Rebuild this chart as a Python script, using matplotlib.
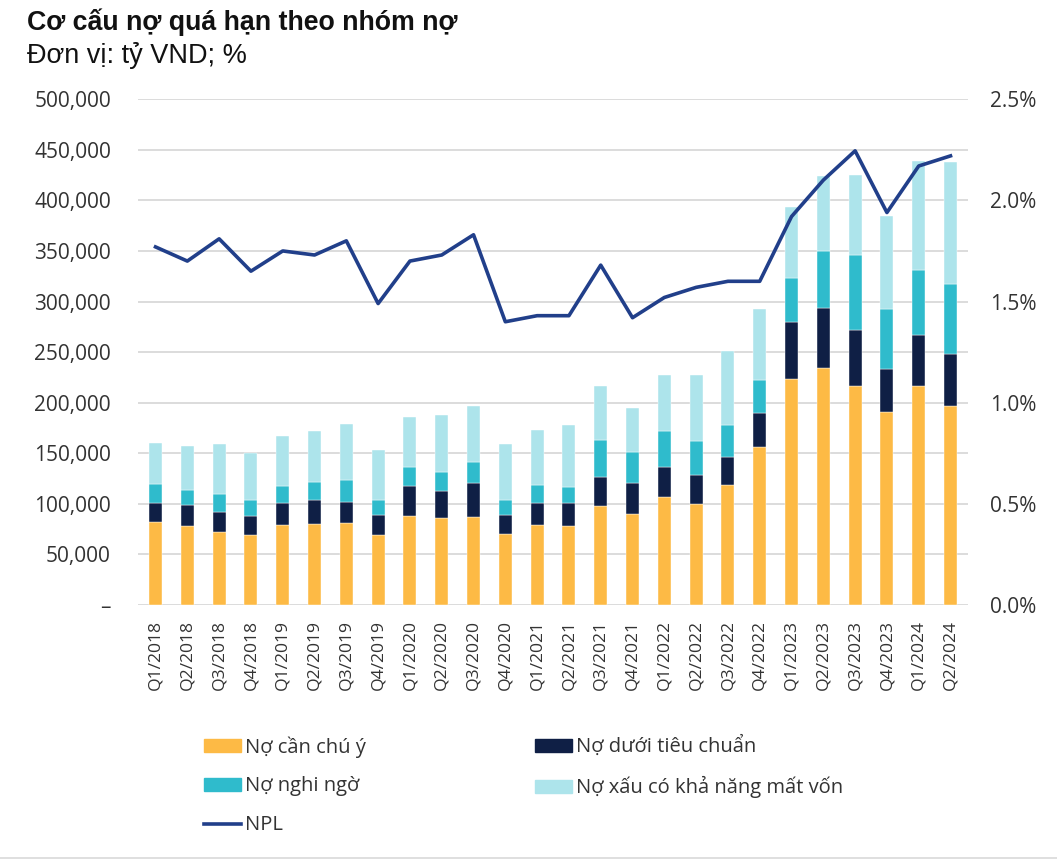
import matplotlib
matplotlib.use("Agg")
import matplotlib.pyplot as plt
from matplotlib.patches import Patch
from matplotlib.lines import Line2D
from matplotlib.ticker import FuncFormatter

quarters = ["Q1/2018", "Q2/2018", "Q3/2018", "Q4/2018",
            "Q1/2019", "Q2/2019", "Q3/2019", "Q4/2019",
            "Q1/2020", "Q2/2020", "Q3/2020", "Q4/2020",
            "Q1/2021", "Q2/2021", "Q3/2021", "Q4/2021",
            "Q1/2022", "Q2/2022", "Q3/2022", "Q4/2022",
            "Q1/2023", "Q2/2023", "Q3/2023", "Q4/2023",
            "Q1/2024", "Q2/2024"]

# ty VND
can_chu_y = [82000, 78000, 72500, 69500, 79000, 80500, 81000, 69500, 87500, 86000,
             86500, 70000, 79000, 78000, 98000, 89500, 107000, 100000, 118500, 156000,
             223000, 234000, 216000, 190500, 216000, 196500]
duoi_tieu_chuan = [19000, 20500, 19500, 18000, 21500, 23500, 21000, 19500, 30000, 27000,
                   34500, 18500, 22000, 23000, 28500, 31500, 29500, 28000, 27500, 33500,
                   56500, 60000, 56000, 43000, 51000, 52000]
nghi_ngo = [18500, 15000, 18000, 16000, 17000, 18000, 21500, 15000, 19000, 18000,
            20500, 15000, 18000, 15500, 36500, 30000, 35500, 34000, 31500, 33000,
            43500, 56000, 74000, 59000, 64500, 69000]
mat_von = [41000, 43500, 49000, 47000, 49500, 50000, 55000, 49000, 49000, 57000,
           55000, 56000, 54000, 61000, 53500, 44000, 55000, 65000, 73500, 70000,
           70500, 74000, 79500, 92000, 107000, 120000]
# %
npl = [1.77, 1.70, 1.81, 1.65, 1.75, 1.73, 1.80, 1.49, 1.70, 1.73,
       1.83, 1.40, 1.43, 1.43, 1.68, 1.42, 1.52, 1.57, 1.60, 1.60,
       1.92, 2.10, 2.245, 1.94, 2.17, 2.22]

c_yellow = "#FDBA45"
c_navy = "#0F1F45"
c_teal = "#2FBBCC"
c_light = "#ADE4EB"
c_line = "#213F8A"
txt = "#333333"

plt.rcParams["font.family"] = ["Open Sans", "DejaVu Sans"]

fig = plt.figure(figsize=(10.57, 8.63), dpi=100)
ax = fig.add_axes([0.1306, 0.299, 0.7852, 0.586])

x = list(range(len(quarters)))
w = 0.41
b1 = can_chu_y
b2 = [a + b for a, b in zip(b1, duoi_tieu_chuan)]
b3 = [a + b for a, b in zip(b2, nghi_ngo)]
ax.bar(x, can_chu_y, w, color=c_yellow, edgecolor="white", linewidth=0.3, zorder=2)
ax.bar(x, duoi_tieu_chuan, w, bottom=b1, color=c_navy, edgecolor="white", linewidth=0.3, zorder=2)
ax.bar(x, nghi_ngo, w, bottom=b2, color=c_teal, edgecolor="white", linewidth=0.3, zorder=2)
ax.bar(x, mat_von, w, bottom=b3, color=c_light, edgecolor="white", linewidth=0.3, zorder=2)

ax.set_ylim(0, 500000)
ax.set_xlim(-0.55, len(quarters) - 0.45)
ax.set_yticks(range(0, 500001, 50000))
ax.yaxis.set_major_formatter(FuncFormatter(lambda v, p: "–" if v == 0 else f"{int(v):,}"))
ax.grid(axis="y", color="#D9D9D9", linewidth=1.3, zorder=0)
ax.set_axisbelow(True)
for s in ax.spines.values():
    s.set_visible(False)
ax.tick_params(axis="both", length=0, colors=txt)
ax.tick_params(axis="y", labelsize=15, pad=19.5)
ax.set_xticks(x)
ax.set_xticklabels(quarters, rotation=90, fontsize=12.6)
ax.tick_params(axis="x", pad=11)

ax2 = ax.twinx()
ax2.plot(x, npl, color=c_line, linewidth=2.6, zorder=3)
ax2.set_ylim(0, 2.5)
ax2.set_yticks([0, 0.5, 1.0, 1.5, 2.0, 2.5])
ax2.yaxis.set_major_formatter(FuncFormatter(lambda v, p: f"{v:.1f}%"))
ax2.tick_params(axis="y", length=0, colors=txt, labelsize=15, pad=16)
for s in ax2.spines.values():
    s.set_visible(False)

fig.text(0.026, 0.9652, "Cơ cấu nợ quá hạn theo nhóm nợ", fontsize=19.3, fontweight="bold",
         family="Liberation Sans", color="#111111", va="baseline")
fig.text(0.026, 0.927, "Đơn vị: tỷ VND; %", fontsize=19.5, family="Liberation Sans",
         color="#111111", va="baseline")

leg_kw = dict(loc="upper left", frameon=False, fontsize=14.5, handlelength=1.84,
              handleheight=0.6, handletextpad=0.2, labelspacing=0.94,
              borderpad=0, borderaxespad=0, labelcolor=txt)
leg1 = fig.legend([Patch(color=c_yellow), Patch(color=c_teal),
                   Line2D([0], [0], color=c_line, linewidth=2.6)],
                  ["Nợ cần chú ý", "Nợ nghi ngờ", "NPL"],
                  bbox_to_anchor=(204 / 1057, 1 - 736 / 863), **leg_kw)
leg2 = fig.legend([Patch(color=c_navy), Patch(color=c_light)],
                  ["Nợ dưới tiêu chuẩn", "Nợ xấu có khả năng mất vốn"],
                  bbox_to_anchor=(535 / 1057, 1 - 736 / 863), **leg_kw)

fig.add_artist(Line2D([0, 1], [0.006, 0.006], color="#D9D9D9", linewidth=1.2))

fig.savefig("out.png", dpi=100)
